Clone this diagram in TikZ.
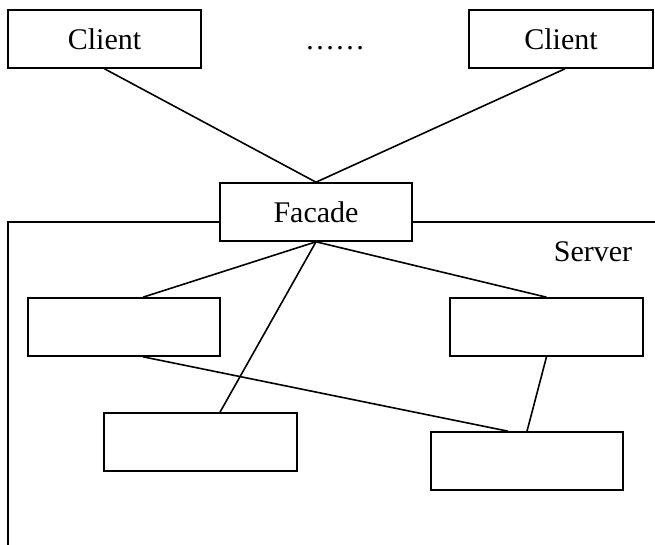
\documentclass[tikz,border=0pt]{standalone}
\usepackage{fontspec}
\setmainfont{Liberation Serif}
\begin{document}
\begin{tikzpicture}[x=1pt,y=-1pt,
  line width=1.6pt,
  box/.style={draw, rectangle, inner sep=0pt, minimum height=58pt, font=\fontsize{30}{36}\selectfont},
  lbl/.style={inner sep=0pt, font=\fontsize{30}{36}\selectfont}]
\useasboundingbox (0,0) rectangle (655,545);

% clients
\node[box, minimum width=193pt] (cl) at (104.5,39) {Client};
\node[box, minimum width=184pt] (cr) at (561,39) {Client};
\node[lbl, anchor=base] (dots) at (335,50) {……};

% facade
\node[box, minimum width=192pt] (fa) at (316,212) {Facade};

% server frame
\coordinate (sbl) at (8,545);
\coordinate (stl) at (8,222);
\coordinate (str) at (655,222);
\draw (sbl) -- (stl) -- (stl -| fa.west);
\draw (fa.east |- str) -- (str);
\node[lbl] (srv) at (593,252) {Server};

% subsystem classes
\node[box, minimum width=192pt] (a) at (124,327) {};
\node[box, minimum width=193pt] (b) at (546.5,327) {};
\node[box, minimum width=193pt] (c) at (200.5,442) {};
\node[box, minimum width=192pt] (d) at (527,461) {};

% connectors
\draw (cl.south) -- (fa.north);
\draw ([xshift=4pt]cr.south) -- (fa.north);
\draw (fa.south) -- ([xshift=19pt]a.north);
\draw (fa.south) -- ([xshift=19.5pt]c.north);
\draw (fa.south) -- (b.north);
\draw ([xshift=19pt]a.south) -- ([xshift=-19pt]d.north);
\draw (b.south) -- (d.north);
\end{tikzpicture}
\end{document}
